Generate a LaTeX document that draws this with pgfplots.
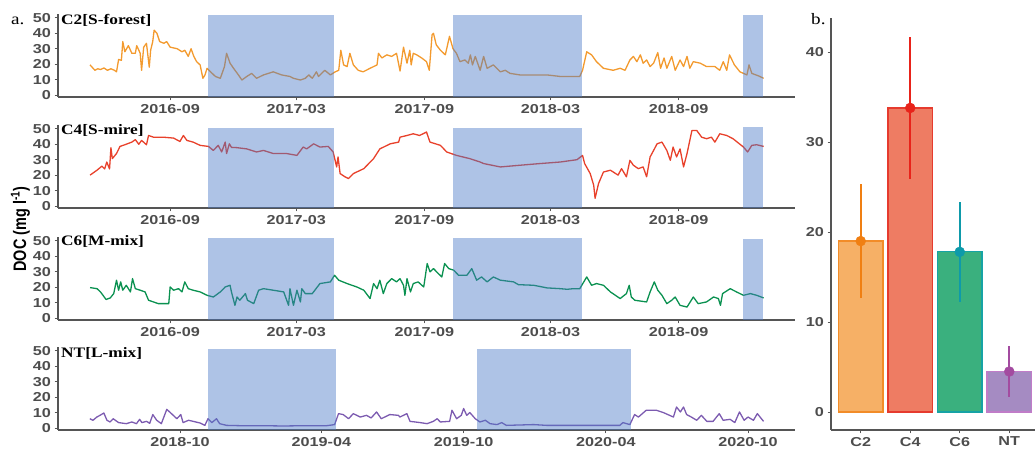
\documentclass[border=0pt]{standalone}
\usepackage{fontspec}
\usepackage{graphicx}
\usepackage{pgfplots}
\pgfplotsset{compat=1.18}
\setmainfont{Liberation Serif}
\newfontfamily\ticksf{Liberation Sans}[FakeStretch=1.25]
\newfontfamily\titlefont{Liberation Serif}[FakeStretch=1.2]
\newfontfamily\ylabfont{Liberation Sans}

\definecolor{tickgray}{HTML}{4D4D4D}
\definecolor{axisgray}{HTML}{555555}
\definecolor{shadeblue}{HTML}{4B79C7}
\definecolor{cTwo}{HTML}{F39A2E}
\definecolor{cFour}{HTML}{E8412B}
\definecolor{cSix}{HTML}{0A9150}
\definecolor{cNT}{HTML}{7C5BB0}
% bar panel colours
\definecolor{cTwoFill}{HTML}{F6B066}
\definecolor{cTwoEdge}{HTML}{F28C28}
\definecolor{cTwoDot}{HTML}{F07F12}
\definecolor{cFourFill}{HTML}{EE7C63}
\definecolor{cFourEdge}{HTML}{E63B2E}
\definecolor{cFourDot}{HTML}{E8231A}
\definecolor{cSixFill}{HTML}{3AB07E}
\definecolor{cSixEdge}{HTML}{16A3A5}
\definecolor{cSixDot}{HTML}{0E9AAA}
\definecolor{cNTFill}{HTML}{A58BC2}
\definecolor{cNTEdge}{HTML}{C07CC8}
\definecolor{cNTDot}{HTML}{A34BA0}

\newcommand{\tickfont}{\ticksf\bfseries\fontsize{13}{15}\selectfont}

\pgfplotsset{
  docpanel/.style={
    scale only axis, width=737bp, height=83bp, anchor=south west,
    axis x line*=bottom, axis y line*=left,
    ymin=-1.3, ymax=52.5, ytick={0,10,...,50},
    tick align=outside, major tick length=3.5bp,
    axis line style={-, draw=axisgray, line width=1.1bp},
    every tick/.style={draw=axisgray, line width=0.9bp},
    tick label style={font=\tickfont, text=tickgray},
    /pgf/number format/assume math mode=true,
  },
  panelA/.style={docpanel, xmin=-161, xmax=897,
    xtick={0,181,365,546,730},
    xticklabels={2016-09,2017-03,2017-09,2018-03,2018-09}},
  series/.style={line width=1.3bp, line join=round, #1},
  season/.style={fill=shadeblue, fill opacity=0.45, draw=none},
}

% DOC series; x = days since 2016-09-01 (C2, C4, C6) or 2018-10-01 (NT)
\pgfplotstableread{
d v
-115 19.5
-108 16
-104 17
-100 16.5
-95 17.5
-90 16
-85 17
-80 16
-77 15
-74 23
-70 22.5
-68 34.6
-65 28
-60 32
-55 27
-50 27
-48 32
-43 27
-41 16
-38 31
-34 33.5
-30 18
-28 29
-25 34.6
-23 42
-19 40
-15 34.6
-9 33.5
-5 34.6
0 31
10 30
17 28
21 29
26 25
30 30
34 25
38 21.6
43 19.5
47 10.8
50 13
53 17.3
58 15
65 12
72 10.8
78 18.4
81 27
86 20.6
91 17.3
98 13
103 9.7
110 12
117 14
124 10.8
134 13
148 15
160 13
172 12
177 10.8
187 9.7
194 10.8
199 13
204 10.8
210 15
213 12
222 16
230 13
237 15
242 16
245 29
249 19.5
254 18.4
258 27
263 19.5
270 16
277 15
287 17.3
297 19.5
299 27
304 24
311 26
318 25
325 27
330 15.5
335 31
340 20.6
344 29
346 19.5
349 27
354 26
361 24
368 21.6
372 16
376 39
378 40
382 32.5
388 29
395 26
401 38
406 30
411 27
416 21.6
423 22.7
428 20.6
431 26
434 19.5
438 25
445 16
450 25
455 17.3
464 19.5
474 15
481 16
488 14
502 13
522 13
541 13
560 12
588 12
592 16
598 28
605 26
612 21.6
622 17.3
636 16
646 17.3
653 16
660 22.7
665 25
670 21.6
675 26
679 20.6
684 22.7
689 18.4
694 20.6
700 27.5
704 17.3
709 24
713 17.3
720 25
725 16
732 22.7
737 18.4
742 25
746 17.3
751 21.6
761 20.6
770 18.4
782 18.4
789 16
794 21.6
799 16
803 26
810 19.5
818 15
828 13
831 19.5
835 14
845 12.3
852 10.8
}\tabCtwo

\pgfplotstableread{
d v
-115 20
-105 23.2
-98 25.8
-94 24
-91 28.5
-87 24
-85 37.8
-83 30.7
-77 34
-72 38.6
-65 39.7
-55 41.4
-50 43
-45 40
-41 42.5
-34 39.7
-31 45.7
-24 44.6
-10 44.6
5 44
14 41.8
19 45.7
24 42.5
33 41.4
43 39.3
55 38.6
62 36
69 39.3
74 35
79 41.4
81 34
85 40.3
88 38
96 37.8
110 37
124 35
134 36
148 34
167 34
182 32.8
191 38.2
196 37
206 40.3
215 38.2
227 38.6
234 35
239 25.3
241 31.8
244 21
251 18.9
256 17.8
263 21
278 24.2
292 30.7
301 37
316 40.3
328 41.4
330 44.6
340 45.7
349 46.8
358 45.7
368 47.9
373 41.4
388 39.3
397 35
411 32.8
430 30.7
445 28.5
450 27.5
474 25.3
502 26.4
531 27.5
560 28.5
584 30
592 32.8
595 27.5
603 21
608 13.5
610 5
615 14.6
622 22
632 23.2
643 20
648 24.2
655 18.9
660 29.6
665 26.4
672 24.2
679 25.3
684 18.9
689 31.8
694 36
699 40.3
706 41.4
713 36
718 29.6
722 38.2
727 31.8
732 37
737 25.3
742 34
749 48.9
756 48.9
763 44.6
770 43.6
777 44.6
782 41.4
789 46.8
799 45.7
808 43.6
823 38.2
829 35
835 39.3
842 39.7
852 38.6
}\tabCfour

\pgfplotstableread{
d v
-115 19.7
-105 19
-100 16.9
-92 12
-86 13
-81 15.8
-77 24.5
-74 18
-71 23.4
-68 18
-63 21.2
-57 16.9
-54 25.5
-50 19
-43 18
-36 16.9
-31 11.5
-24 10.4
-17 9.3
-2 9.3
0 20.1
5 18
12 19
17 16.9
21 23.4
26 19
33 18
43 16.9
53 14.7
62 13.6
72 16.9
79 20.1
86 21.2
88 16.9
93 8.2
96 13.6
100 11.5
108 15.8
111 11.5
120 9.3
127 18
134 19
148 18
163 16.9
170 8.2
172 19
177 8.2
182 18
187 10.4
189 19
194 15.8
204 15.8
215 22.3
230 23.4
236 27.7
242 24.5
254 22.3
268 20.1
278 18
287 12.6
292 22.3
297 19
301 24.5
306 15.8
311 22.3
318 25.5
325 23.4
330 25.5
335 21.2
337 14.7
340 25.5
345 16.9
349 22.3
356 23.4
364 20.1
369 35.3
373 29.9
378 32
385 28.8
390 26.6
394 35.3
400 32
407 31
414 27.7
426 27.7
433 32
440 24.5
447 26.6
455 23.4
464 26.6
474 24.5
493 23.4
500 21.6
522 21.2
541 19.5
560 19
570 18.6
579 19
588 19
598 26.6
605 21.2
612 22.3
622 21.2
632 16.9
646 12.6
655 15.8
659 21.2
662 13.6
667 11.5
684 10.4
689 16.9
695 23.4
700 18
706 14.7
713 9.3
720 11.5
725 13.6
732 8.2
742 7.1
751 13.6
758 9.3
770 10.4
780 13.6
787 12.6
790 8.2
793 15.8
804 19
813 16.9
823 14.7
833 15.8
842 14.7
852 13
}\tabCsix

\pgfplotstableread{
d v
-116 6
-112 5
-107 7.1
-103 8.2
-98 9.7
-94 5
-90 3.9
-86 6
-79 3.5
-69 2.8
-62 3.9
-56 2.8
-52 5.6
-49 3.5
-43 4.3
-39 3
-35 8.7
-30 5
-24 2.8
-17 12.1
-11 9.3
-4 6
1 8.7
4 3.5
11 5
17 4.3
26 3.2
32 1.7
36 6
41 3.5
47 6
51 2.8
60 1.7
77 1.5
103 1.5
133 1.3
163 1.5
189 1.5
199 2.2
204 9.3
210 8.7
217 6
223 9.3
232 7.1
240 8.2
246 6.5
253 10.4
259 6
270 8.7
281 8.2
283 7.1
292 9.3
296 4.3
309 3.5
318 2.8
326 4.3
331 6
335 3.9
347 4.3
350 11.5
356 6
362 8.2
365 12.6
369 8.2
373 10
380 6
386 3.9
393 5
399 2.8
408 2.2
414 3.5
420 1.7
455 2.2
472 1.7
506 1.7
541 1.7
566 1.7
570 3.5
579 2.2
585 8.7
590 7.1
600 11.5
613 11.5
622 10
635 7.1
639 13.6
644 10.4
648 13.6
652 8.7
658 7.1
665 5
671 8.2
678 4.3
686 4.3
694 9.3
699 5
708 5.6
714 3.5
720 10.4
726 5
731 7.1
738 5
743 9.3
751 4.3
}\tabNT

\begin{document}
\begin{tikzpicture}[x=1bp,y=1bp]
\path[use as bounding box] (0,0) rectangle (1035,449);

% ---- a. C2 ----
\begin{axis}[panelA, at={(58bp,352bp)}]
\addplot[series=cTwo] table {\tabCtwo};
\addplot[season] coordinates {(54.5,-1.3) (235.4,-1.3) (235.4,52) (54.5,52)} --cycle;
\addplot[season] coordinates {(406,-1.3) (591,-1.3) (591,52) (406,52)} --cycle;
\addplot[season] coordinates {(822,-1.3) (851,-1.3) (851,52) (822,52)} --cycle;
\end{axis}

% ---- a. C4 ----
\begin{axis}[panelA, at={(58bp,241bp)}]
\addplot[series=cFour] table {\tabCfour};
\addplot[season] coordinates {(54.5,-1.3) (235.4,-1.3) (235.4,50.7) (54.5,50.7)} --cycle;
\addplot[season] coordinates {(406,-1.3) (591,-1.3) (591,50.7) (406,50.7)} --cycle;
\addplot[season] coordinates {(822,-1.3) (851,-1.3) (851,51.5) (822,51.5)} --cycle;
\end{axis}

% ---- a. C6 ----
\begin{axis}[panelA, at={(58bp,129bp)}]
\addplot[series=cSix] table {\tabCsix};
\addplot[season] coordinates {(54.5,-1.3) (235.4,-1.3) (235.4,52) (54.5,52)} --cycle;
\addplot[season] coordinates {(406,-1.3) (591,-1.3) (591,52) (406,52)} --cycle;
\addplot[season] coordinates {(822,-1.3) (851,-1.3) (851,51.5) (822,51.5)} --cycle;
\end{axis}

% ---- a. NT ----
\begin{axis}[docpanel, at={(58bp,19bp)}, xmin=-157, xmax=791.5,
  xtick={0,182,365,548,731},
  xticklabels={2018-10,2019-04,2019-10,2020-04,2020-10}]
\addplot[series=cNT] table {\tabNT};
\addplot[season] coordinates {(36,-1.3) (201,-1.3) (201,51.3) (36,51.3)} --cycle;
\addplot[season] coordinates {(382,-1.3) (580,-1.3) (580,51.3) (382,51.3)} --cycle;
\end{axis}

% ---- b. mean DOC per catchment ----
\begin{axis}[scale only axis, width=204bp, height=412bp,
  at={(831bp,19bp)}, anchor=south west,
  xmin=0.4, xmax=4.52, ymin=-2, ymax=43.8,
  axis x line*=bottom, axis y line*=left,
  xtick={1,2,3,4}, xticklabels={C2,C4,C6,NT},
  ytick={0,10,20,30,40},
  tick align=outside, major tick length=3.5bp,
  axis line style={-, draw=axisgray, line width=1.1bp},
  every tick/.style={draw=axisgray, line width=0.9bp},
  tick label style={font=\tickfont, text=tickgray},
  /pgf/number format/assume math mode=true]
\addplot[ybar, bar width=44.5bp, bar shift=0pt, fill=cTwoFill, draw=cTwoEdge, line width=1.2bp] coordinates {(1,19.0)};
\addplot[ybar, bar width=44.5bp, bar shift=0pt, fill=cFourFill, draw=cFourEdge, line width=1.2bp] coordinates {(2,33.8)};
\addplot[ybar, bar width=44.5bp, bar shift=0pt, fill=cSixFill, draw=cSixEdge, line width=1.2bp] coordinates {(3,17.8)};
\addplot[ybar, bar width=44.5bp, bar shift=0pt, fill=cNTFill, draw=cNTEdge, line width=1.2bp] coordinates {(4,4.5)};
\addplot[only marks, mark=*, mark size=5bp, color=cTwoDot,
  error bars/.cd, y dir=both, y explicit, error mark=none,
  error bar style={line width=2.2bp, cTwoDot}] coordinates {(1,19.0) +- (0,6.3)};
\addplot[only marks, mark=*, mark size=5bp, color=cFourDot,
  error bars/.cd, y dir=both, y explicit, error mark=none,
  error bar style={line width=2.2bp, cFourDot}] coordinates {(2,33.8) +- (0,7.9)};
\addplot[only marks, mark=*, mark size=5bp, color=cSixDot,
  error bars/.cd, y dir=both, y explicit, error mark=none,
  error bar style={line width=2.2bp, cSixDot}] coordinates {(3,17.8) +- (0,5.55)};
\addplot[only marks, mark=*, mark size=5bp, color=cNTDot,
  error bars/.cd, y dir=both, y explicit, error mark=none,
  error bar style={line width=2.2bp, cNTDot}] coordinates {(4,4.5) +- (0,2.8)};
\end{axis}

% panel tags and titles
\node[anchor=base west, inner sep=0, font=\titlefont\fontsize{16}{18}\selectfont] at (11,424) {a.};
\node[anchor=base west, inner sep=0, font=\titlefont\fontsize{16}{18}\selectfont] at (811,424) {b.};
\node[anchor=base west, inner sep=0, font=\titlefont\bfseries\fontsize{14.5}{16}\selectfont] at (61,424) {C2[S-forest]};
\node[anchor=base west, inner sep=0, font=\titlefont\bfseries\fontsize{14.5}{16}\selectfont] at (61,314) {C4[S-mire]};
\node[anchor=base west, inner sep=0, font=\titlefont\bfseries\fontsize{14.5}{16}\selectfont] at (61,203) {C6[M-mix]};
\node[anchor=base west, inner sep=0, font=\titlefont\bfseries\fontsize{14.5}{16}\selectfont] at (61,91) {NT[L-mix]};
\node[rotate=90, inner sep=0, font=\ylabfont\bfseries\fontsize{14.5}{16}\selectfont] at (20.5,220)
  {\scalebox{1}[1.25]{DOC (mg l\textsuperscript{-1})}};
\end{tikzpicture}
\end{document}
